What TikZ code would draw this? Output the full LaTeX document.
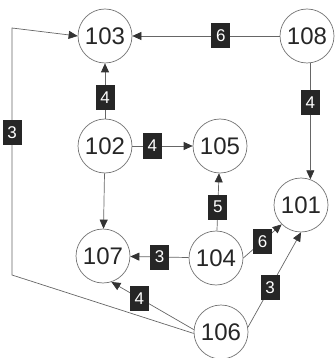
\documentclass[tikz,border=0pt]{standalone}
\usepackage{fontspec}
\setmainfont{Liberation Sans}
\usetikzlibrary{arrows.meta}
\begin{document}
\begin{tikzpicture}[x=1pt,y=-1pt,
  vert/.style={circle,draw=black!55,line width=0.7pt,minimum size=54pt,inner sep=0pt,
    font=\fontsize{24}{24}\selectfont,text=black!85},
  wt/.style={fill=black!85,text=white,font=\fontsize{17}{17}\selectfont,
    minimum width=19pt,minimum height=25pt,inner sep=0pt},
  edge/.style={draw=black!60,line width=0.7pt,
    -{Triangle[length=9pt,width=8pt,color=black!80]}}]
\useasboundingbox (0,0) rectangle (334,358);

% vertices
\node[vert] (103) at (105,36)  {103};
\node[vert] (108) at (307,36)  {108};
\node[vert] (102) at (105,146) {102};
\node[vert] (105) at (220,146) {105};
\node[vert] (101) at (301,205) {101};
\node[vert] (107) at (103,256) {107};
\node[vert] (104) at (216,258) {104};
\node[vert] (106) at (221,332) {106};

% bends of the long edge round the left side
\coordinate (c1) at (12,275);
\coordinate (c2) at (12,28);

% weighted edges
\draw[edge] (108) -- node[wt,pos=0.40]{6} (103);
\draw[edge] (102) -- node[wt,pos=0.38]{4} (103);
\draw[edge] (102) -- node[wt,pos=0.33]{4} (105);
\draw[edge] (101.70 |- 108.south) -- node[wt,pos=0.34]{4} (101.70);
\draw[edge] (102) -- (107);
\draw[edge] (104) -- node[wt,pos=0.41]{5} (105);
\draw[edge] (104) -- node[wt]{3} (107);
\draw[edge] (104.east) -- node[wt]{6} (101.225);
\draw[edge] (106.10) -- node[wt,pos=0.42]{3} (101.south);
\draw[edge] (106.175) -- node[wt,pos=0.66]{4} (107.-72);
\draw[edge] (106.183) -- (c1) -- node[wt,pos=0.575]{3} (c2) -- (103.west);
\end{tikzpicture}
\end{document}
